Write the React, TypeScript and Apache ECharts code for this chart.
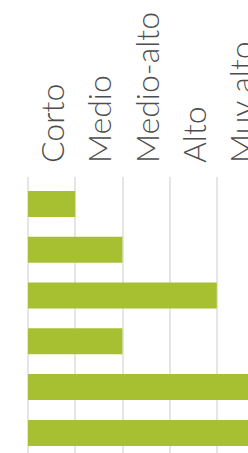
import React, { useEffect, useRef } from "react";
import * as echarts from "echarts";

const levelLabels = ["Corto", "Medio", "Medio-alto", "Alto", "Muy alto"];
const rowNames = ["1", "2", "3", "4", "5", "6"];
const rowValues = [1, 2, 4, 2, 5, 5];
const scaleMax = 5;

export default function App() {
  const ref = useRef<HTMLDivElement>(null);
  useEffect(() => {
    document.body.style.overflow = "hidden";
    const chart = echarts.init(ref.current!, null, { renderer: "svg" });
    chart.setOption({
      animation: false,
      backgroundColor: "#ffffff",
      grid: { left: 28, right: 36, top: 181, bottom: 44.2, containLabel: false },
      xAxis: [
        {
          type: "value",
          min: 0,
          max: scaleMax,
          interval: 1,
          axisLine: { show: false },
          axisTick: { show: false },
          axisLabel: { show: false },
          splitLine: { show: true, lineStyle: { color: "#dcdcdc", width: 1.5 } },
        },
        {
          type: "category",
          position: "top",
          data: levelLabels,
          boundaryGap: true,
          axisLine: { show: false },
          axisTick: { show: true, length: 4, lineStyle: { color: "#dcdcdc", width: 1.5 } },
          splitLine: { show: false },
          axisLabel: {
            rotate: -90,
            margin: 18,
            fontSize: 32,
            color: "#4d4d4d",
            fontFamily: "Lato",
            fontWeight: 300,
          },
        },
      ],
      yAxis: {
        type: "category",
        inverse: true,
        data: rowNames,
        axisLine: { show: false },
        axisTick: { show: false },
        axisLabel: { show: false },
        splitLine: { show: false },
      },
      series: [
        {
          type: "bar",
          xAxisIndex: 0,
          data: rowValues,
          barWidth: 26,
          itemStyle: { color: "#a7c032" },
        },
      ],
    });
    return () => chart.dispose();
  }, []);
  return (
    <div style={{ position: "fixed", left: 0, top: 0, width: 248, height: 453, overflow: "hidden", background: "#fff" }}>
      <div ref={ref} style={{ width: 300, height: 500 }} />
    </div>
  );
}
